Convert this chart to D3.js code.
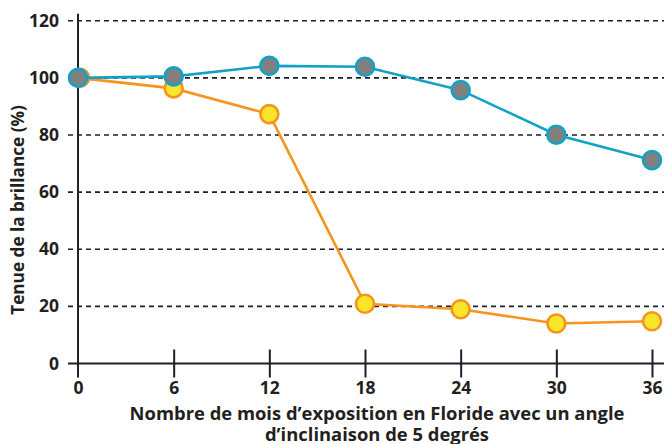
<!DOCTYPE html>
<html>
<head>
<meta charset="utf-8">
<script src="https://cdn.jsdelivr.net/npm/d3@7"></script>
<style>
  body { margin: 0; background: #fff; }
  text { font-family: "Open Sans", sans-serif; font-weight: 700; fill: #231f20; }
</style>
</head>
<body>
<div id="wrapper"></div>
<script>
// Data
const months = [0, 6, 12, 18, 24, 30, 36]
const blueSeries = [100, 100.5, 104.2, 103.9, 95.7, 80.1, 71.2]
const orangeSeries = [100, 96.3, 87.3, 20.9, 19.0, 14.0, 14.8]
const yTicks = [0, 20, 40, 60, 80, 100, 120]
const xTitleLines = ["Nombre de mois d\u2019exposition en Floride avec un angle", "d\u2019inclinaison de 5 degr\u00e9s"]
const yTitle = "Tenue de la brillance (%)"

let dimensions = {
    width: 664,
    height: 444,
    margin: { top: 20.7, right: 12, bottom: 80.5, left: 78 }
}
dimensions.boundedWidth = dimensions.width - dimensions.margin.left - dimensions.margin.right
dimensions.boundedHeight = dimensions.height - dimensions.margin.top - dimensions.margin.bottom

const wrapper = d3.select("#wrapper")
    .append("svg")
        .attr("width", dimensions.width)
        .attr("height", dimensions.height)

const bounds = wrapper.append("g")
    .attr("transform", `translate(${dimensions.margin.left},${dimensions.margin.top})`)

// Scales
const xScale = d3.scaleLinear()
    .domain([0, 36])
    .range([0, dimensions.boundedWidth])

const yScale = d3.scaleLinear()
    .domain([0, 120])
    .range([dimensions.boundedHeight, 0])

// grid lines (dashed)
bounds.append("g")
    .selectAll("line")
    .data(yTicks.filter(d => d > 0))
    .join("line")
        .attr("x1", -10)
        .attr("x2", dimensions.width - dimensions.margin.left)
        .attr("y1", d => yScale(d))
        .attr("y2", d => yScale(d))
        .attr("stroke", "#1b2126")
        .attr("stroke-width", 1.6)
        .attr("stroke-dasharray", "5,4")

// y axis
const yAxisGenerator = d3.axisLeft(yScale)
    .tickValues(yTicks)
    .tickSize(0)
    .tickPadding(19)
const yAxis = bounds.append("g").call(yAxisGenerator)
yAxis.select(".domain").remove()
yAxis.selectAll("text")
    .style("font-size", "17.5px")
    .attr("fill", "#231f20")

bounds.append("line")
    .attr("x1", 0).attr("x2", 0)
    .attr("y1", -7).attr("y2", dimensions.boundedHeight + 14)
    .attr("stroke", "#1b2126")
    .attr("stroke-width", 2)

// x axis
const xAxisGenerator = d3.axisBottom(xScale)
    .tickValues(months)
    .tickSizeInner(14)
    .tickSizeOuter(0)
    .tickPadding(4)
const xAxis = bounds.append("g")
    .attr("transform", `translate(0,${dimensions.boundedHeight})`)
    .call(xAxisGenerator)
xAxis.select(".domain").remove()
xAxis.selectAll(".tick line")
    .attr("y1", -14)
    .attr("stroke", "#1b2126")
    .attr("stroke-width", 2)
xAxis.selectAll(".tick").filter(d => d === 0).select("line").remove()
xAxis.selectAll("text")
    .style("font-size", "17.5px")
    .attr("fill", "#231f20")

bounds.append("line")
    .attr("x1", -10)
    .attr("x2", dimensions.width - dimensions.margin.left)
    .attr("y1", dimensions.boundedHeight)
    .attr("y2", dimensions.boundedHeight)
    .attr("stroke", "#1b2126")
    .attr("stroke-width", 2)

// lines
const orangeData = months.map((m, i) => ({ m, v: orangeSeries[i] }))
const blueData = months.map((m, i) => ({ m, v: blueSeries[i] }))

const lineGenerator = d3.line()
    .x(d => xScale(d.m))
    .y(d => yScale(d.v))

bounds.append("path")
    .attr("d", lineGenerator(orangeData))
    .attr("fill", "none")
    .attr("stroke", "#f7941d")
    .attr("stroke-width", 2.6)

bounds.append("g")
    .selectAll("circle")
    .data(orangeData)
    .join("circle")
        .attr("cx", d => xScale(d.m) + (d.m === 0 ? 2 : 0))
        .attr("cy", d => yScale(d.v))
        .attr("r", 9)
        .attr("fill", "#f8e52c")
        .attr("stroke", "#f7941d")
        .attr("stroke-width", 2.6)

bounds.append("path")
    .attr("d", lineGenerator(blueData))
    .attr("fill", "none")
    .attr("stroke", "#12a2c6")
    .attr("stroke-width", 2.6)

bounds.append("g")
    .selectAll("circle")
    .data(blueData)
    .join("circle")
        .attr("cx", d => xScale(d.m))
        .attr("cy", d => yScale(d.v))
        .attr("r", 9)
        .attr("fill", "#808080")
        .attr("stroke", "#12a2c6")
        .attr("stroke-width", 2.6)

// axis titles
const xTitle = wrapper.append("text")
    .attr("text-anchor", "middle")
    .style("font-size", "18.4px")
xTitle.selectAll("tspan")
    .data(xTitleLines)
    .join("tspan")
        .attr("x", 377)
        .attr("y", (d, i) => 420 + i * 21)
        .text(d => d)

wrapper.append("text")
    .attr("text-anchor", "middle")
    .attr("transform", "translate(24,210) rotate(-90)")
    .style("font-size", "17.2px")
    .text(yTitle)
</script>
</body>
</html>
